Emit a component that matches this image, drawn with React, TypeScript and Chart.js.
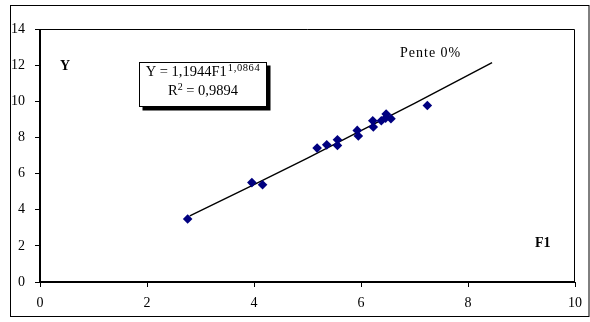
import React, { useEffect, useRef } from "react";
import { Chart, registerables } from "chart.js";

Chart.register(...registerables);

const pointsX = [2.76, 3.96, 4.16, 5.18, 5.36, 5.56, 5.56, 5.93, 5.95, 6.22, 6.23, 6.38, 6.47, 6.46, 6.56, 7.24];
const pointsY = [3.49, 5.5, 5.38, 7.41, 7.59, 7.87, 7.56, 8.39, 8.08, 8.92, 8.58, 8.92, 9.3, 9.07, 9.04, 9.77];

const trendX = [2.8, 4, 5, 6, 7, 8.45];
const trendY = [3.66, 5.39, 6.86, 8.37, 9.89, 12.14];

const xTicks = [0, 2, 4, 6, 8, 10];
const yTicks = [0, 2, 4, 6, 8, 10, 12, 14];

const SERIF = "'Liberation Serif', 'Times New Roman', serif";

const decorPlugin = {
  id: "decor",
  beforeDraw(chart: any) {
    const ctx = chart.ctx;
    ctx.save();
    ctx.fillStyle = "#ffffff";
    ctx.fillRect(0, 0, chart.width, chart.height);
    ctx.restore();
  },
  afterDraw(chart: any) {
    const ctx = chart.ctx;
    const { left, right, top, bottom } = chart.chartArea;
    ctx.save();
    // outer frame
    ctx.strokeStyle = "#000";
    ctx.lineWidth = 1;
    ctx.strokeRect(10.5, 5.5, 578.5, 311);
    // plot box
    ctx.beginPath();
    ctx.moveTo(left, top + 0.5);
    ctx.lineTo(right - 0.5, top + 0.5);
    ctx.lineTo(right - 0.5, bottom);
    ctx.stroke();
    ctx.lineWidth = 2;
    ctx.beginPath();
    ctx.moveTo(left, bottom);
    ctx.lineTo(right, bottom);
    ctx.moveTo(left, top);
    ctx.lineTo(left, bottom);
    ctx.stroke();

    // axis labels
    ctx.fillStyle = "#000";
    ctx.font = `bold 14px ${SERIF}`;
    ctx.textBaseline = "middle";
    ctx.textAlign = "left";
    ctx.fillText("Y", 60, 66);
    ctx.fillText("F1", 535, 243);
    ctx.font = `14px ${SERIF}`;
    (ctx as any).letterSpacing = "1px";
    ctx.fillText("Pente 0%", 400, 53);
    (ctx as any).letterSpacing = "0px";

    // equation box with shadow
    const bx = 139.5, by = 62.5, bw = 127, bh = 44;
    ctx.fillStyle = "#000";
    ctx.fillRect(bx + 3, by + 3, bw + 1, bh + 1);
    ctx.fillStyle = "#fff";
    ctx.fillRect(bx, by, bw, bh);
    ctx.lineWidth = 1;
    ctx.strokeStyle = "#000";
    ctx.strokeRect(bx, by, bw, bh);

    ctx.fillStyle = "#000";
    ctx.font = `14.5px ${SERIF}`;
    const main = "Y = 1,1944F1";
    const sup = "1,0864";
    const mw = ctx.measureText(main).width;
    ctx.font = `10.5px ${SERIF}`;
    (ctx as any).letterSpacing = "0.6px";
    const sw = ctx.measureText(sup).width;
    (ctx as any).letterSpacing = "0px";
    const cx = bx + bw / 2;
    const startX = cx - (mw + sw + 1) / 2;
    ctx.font = `14.5px ${SERIF}`;
    ctx.fillText(main, startX, 72);
    ctx.font = `10.5px ${SERIF}`;
    (ctx as any).letterSpacing = "0.6px";
    ctx.fillText(sup, startX + mw + 1, 68);
    (ctx as any).letterSpacing = "0px";

    ctx.font = `14.5px ${SERIF}`;
    const r1 = "R";
    const r2 = " = 0,9894";
    const w1 = ctx.measureText(r1).width;
    const w2 = ctx.measureText(r2).width;
    ctx.font = `10px ${SERIF}`;
    const w3 = ctx.measureText("2").width;
    const sx2 = cx - (w1 + w2 + w3) / 2;
    ctx.font = `14.5px ${SERIF}`;
    ctx.fillText(r1, sx2, 91);
    ctx.font = `10px ${SERIF}`;
    ctx.fillText("2", sx2 + w1, 87);
    ctx.font = `14.5px ${SERIF}`;
    ctx.fillText(r2, sx2 + w1 + w3, 91);
    ctx.restore();
  },
};

export default function App() {
  const ref = useRef<HTMLCanvasElement | null>(null);

  useEffect(() => {
    if (!ref.current) return;
    const scatterData = pointsX.map((x, i) => ({ x, y: pointsY[i] }));
    const trendData = trendX.map((x, i) => ({ x, y: trendY[i] }));
    const chart = new Chart(ref.current, {
      type: "scatter",
      data: {
        datasets: [
          {
            label: "data",
            data: scatterData,
            pointStyle: "rectRot",
            pointRadius: 4.8,
            backgroundColor: "#000080",
            borderColor: "#000080",
            borderWidth: 0,
            showLine: false,
            order: 1,
          },
          {
            label: "trend",
            data: trendData,
            showLine: true,
            borderColor: "#000",
            borderWidth: 1.4,
            pointRadius: 0,
            fill: false,
            tension: 0,
            order: 2,
          },
        ],
      },
      options: {
        animation: false,
        responsive: false,
        devicePixelRatio: 1,
        layout: { padding: { left: 0, top: 29, right: 9, bottom: 0 } },
        plugins: {
          legend: { display: false },
          tooltip: { enabled: false },
        },
        scales: {
          x: {
            type: "linear",
            min: 0,
            max: 10,
            afterBuildTicks: (s: any) => {
              s.ticks = xTicks.map((v) => ({ value: v }));
            },
            afterFit: (s: any) => {
              s.height = 40;
            },
            grid: {
              drawOnChartArea: false,
              drawTicks: true,
              tickLength: 5,
              color: "#000",
              lineWidth: 1,
            },
            border: { display: false },
            ticks: {
              color: "#000",
              padding: 8,
              maxRotation: 0,
              font: { family: SERIF, size: 14 },
            },
          },
          y: {
            type: "linear",
            min: 0,
            max: 14,
            afterBuildTicks: (s: any) => {
              s.ticks = yTicks.map((v) => ({ value: v }));
            },
            afterFit: (s: any) => {
              s.width = 40;
            },
            grid: {
              drawOnChartArea: false,
              drawTicks: true,
              tickLength: 5,
              color: "#000",
              lineWidth: 1,
            },
            border: { display: false },
            ticks: {
              color: "#000",
              padding: 10,
              font: { family: SERIF, size: 14 },
            },
          },
        },
      },
      plugins: [decorPlugin],
    } as any);
    return () => chart.destroy();
  }, []);

  return (
    <div style={{ position: "fixed", left: 0, top: 0, width: 590, height: 322, background: "#fff" }}>
      <canvas ref={ref} width={590} height={322} style={{ width: 590, height: 322, display: "block" }} />
    </div>
  );
}
